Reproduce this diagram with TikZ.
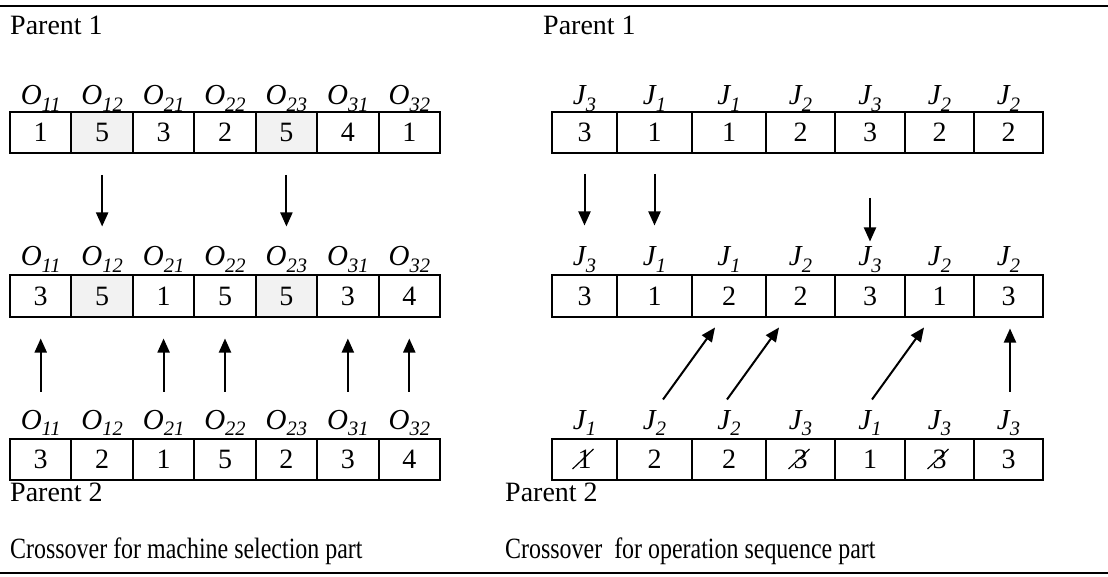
\documentclass[tikz,border=0pt]{standalone}
\usepackage{fontspec}
\usepackage{graphicx}
\setmainfont{Liberation Serif}
\usetikzlibrary{arrows.meta,calc}
\tikzset{
  cell/.style={draw, line width=2pt, minimum height=41pt, inner sep=0pt,
               font=\fontsize{28}{30}\selectfont},
  lab/.style={anchor=base, inner sep=0pt, font=\fontsize{29}{32}\selectfont\itshape},
  txt/.style={anchor=base west, inner sep=0pt, font=\fontsize{28}{30}\selectfont},
  arr/.style={line width=2pt, -{Triangle[length=14pt,width=12pt]}},
  rulebar/.style={line width=2pt},
  strike/.style={line width=1.2pt},
}
% gene label with a lowered italic index
\newcommand\gene[2]{#1\raisebox{-0.22em}{\fontsize{20.5}{22}\selectfont #2}}
% narrow caption text
\newcommand\narrow[1]{\scalebox{0.855}[1.05]{#1}}
\begin{document}
\begin{tikzpicture}[x=1pt,y=-1pt]
\useasboundingbox (0,0) rectangle (1108,577);

% horizontal rules
\draw[rulebar] (0,6) -- (1108,6);
\draw[rulebar] (0,573) -- (1108,573);

% ---------- machine selection part ----------
\foreach \v/\f [count=\i] in {1/white,5/gray!10,3/white,2/white,5/gray!10,4/white,1/white}
  \node[cell, minimum width=61.4pt, fill=\f] (LA\i) at ({10+61.43*(\i-0.5)},132.5) {\v};
\foreach \v/\f [count=\i] in {3/white,5/gray!10,1/white,5/white,5/gray!10,3/white,4/white}
  \node[cell, minimum width=61.4pt, fill=\f] (LB\i) at ({10+61.43*(\i-0.5)},296) {\v};
\foreach \v [count=\i] in {3,2,1,5,2,3,4}
  \node[cell, minimum width=61.4pt] (LC\i) at ({10+61.43*(\i-0.5)},459) {\v};

\foreach \r/\y in {A/105,B/266,C/429}
  \foreach \g [count=\i] in {11,12,21,22,23,31,32}
    \node[lab] (L\r l\i) at ({10+61.43*(\i-0.5)},\y) {\gene{O}{\g}};

% ---------- operation sequence part ----------
\foreach \a/\b/\v [count=\i] in {552/617/3,617/692/1,692/766/1,766/835/2,835/905/3,905/974/2,974/1043/2}{
  \pgfmathsetmacro\w{\b-\a}
  \node[cell, minimum width=\w pt] (RA\i) at ({(\a+\b)/2},132.5) {\v};
}
\foreach \a/\b/\v [count=\i] in {552/617/3,617/692/1,692/766/2,766/835/2,835/905/3,905/974/1,974/1043/3}{
  \pgfmathsetmacro\w{\b-\a}
  \node[cell, minimum width=\w pt] (RB\i) at ({(\a+\b)/2},296) {\v};
}
\foreach \a/\b/\v [count=\i] in {552/617/1,617/692/2,692/766/2,766/835/3,835/905/1,905/974/3,974/1043/3}{
  \pgfmathsetmacro\w{\b-\a}
  \node[cell, minimum width=\w pt] (RC\i) at ({(\a+\b)/2},459) {\v};
}

\foreach \a/\b/\g [count=\i] in {552/617/3,617/692/1,692/766/1,766/835/2,835/905/3,905/974/2,974/1043/2}
  \node[lab] (RAl\i) at ({(\a+\b)/2},105) {\gene{J}{\g}};
\foreach \a/\b/\g [count=\i] in {552/617/3,617/692/1,692/766/1,766/835/2,835/905/3,905/974/2,974/1043/2}
  \node[lab] (RBl\i) at ({(\a+\b)/2},266) {\gene{J}{\g}};
\foreach \a/\b/\g [count=\i] in {552/617/1,617/692/2,692/766/2,766/835/3,835/905/1,905/974/3,974/1043/3}
  \node[lab] (RCl\i) at ({(\a+\b)/2},429) {\gene{J}{\g}};

% genes already taken from parent 1 are struck out
\foreach \n in {RC1,RC4,RC6}
  \draw[strike] ($(\n.center)+(-12,10)$) -- ($(\n.center)+(9,-10)$);

% ---------- arrows ----------
\foreach \i in {2,5}
  \draw[arr] ($(LA\i.south)+(0,21)$) -- ($(LB\i.north)+(0,-48)$);
\foreach \i in {1,3,4,6,7}
  \draw[arr] ($(LC\i.north)+(0,-46)$) -- ($(LB\i.south)+(0,21)$);

\foreach \i in {1,2}
  \draw[arr] ($(RA\i.south)+(0,20)$) -- ($(RB\i.north)+(0,-49)$);
\draw[arr] ($(RA5.south)+(0,44)$) -- ($(RB5.north)+(0,-33)$);

\draw[arr] ($(RC2.north)+(8.5,-38)$) -- ($(RB3.south west)+(24,10)$);
\draw[arr] ($(RC3.north)+(-2,-38)$) -- ($(RB4.south west)+(14,10)$);
\draw[arr] ($(RC5.north)+(2,-38)$) -- ($(RB6.south west)+(20,10)$);
\draw[arr] ($(RC7.north)+(1.5,-46)$) -- ($(RB7.south)+(1.5,11)$);

% ---------- captions ----------
\node[txt] (p1l) at (10,35) {Parent 1};
\node[txt] (p1r) at (543,35) {Parent 1};
\node[txt] (p2l) at (10,501) {Parent 2};
\node[txt] (p2r) at (505,501) {Parent 2};
\node[txt] (capl) at (10,558) {\narrow{Crossover for machine selection part}};
\node[txt] (capr) at (505,558) {\narrow{Crossover\ \ for operation sequence part}};
\end{tikzpicture}
\end{document}
